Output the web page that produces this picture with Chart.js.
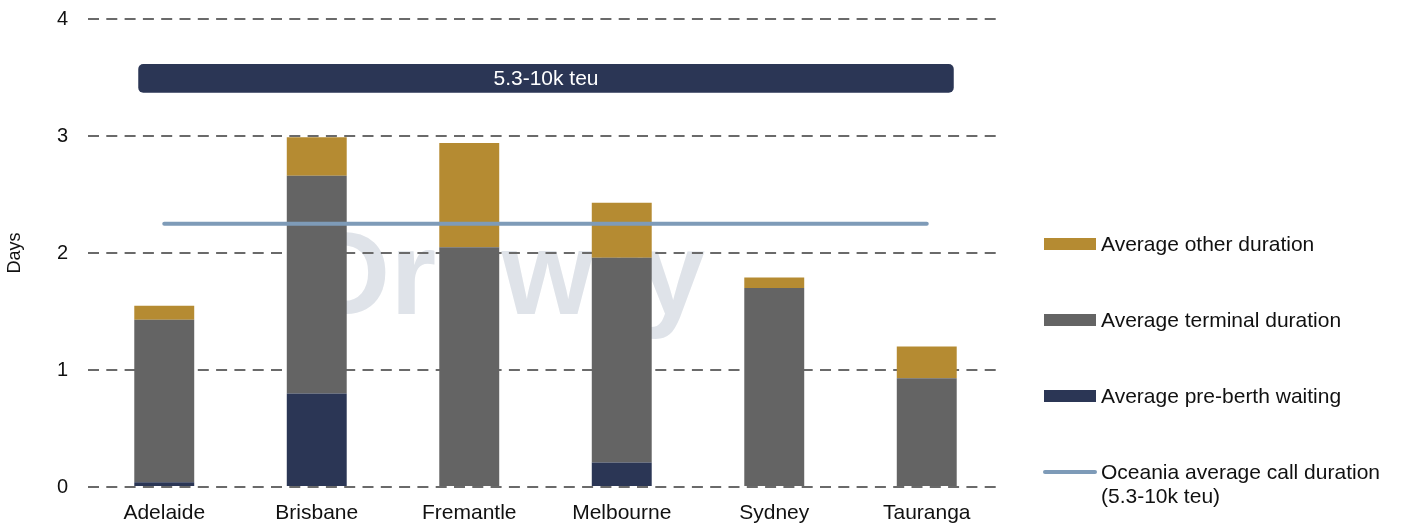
<!DOCTYPE html>
<html>
<head>
<meta charset="utf-8">
<script src="https://cdn.jsdelivr.net/npm/chart.js@4.4.1/dist/chart.umd.min.js"></script>
<style>
  html, body { margin: 0; padding: 0; background: #fff; }
  #wrap { position: relative; width: 1402px; height: 525px; }
  #legend { position: absolute; left: 1043px; top: 0; font-family: "Liberation Sans", Arial, sans-serif; font-size: 21px; color: #111; }
  .item { position: absolute; left: 0; white-space: nowrap; }
  .box { position: absolute; left: 1px; width: 52px; height: 12px; }
  .txt { position: absolute; left: 58px; line-height: 24px; }
</style>
</head>
<body>
<div id="wrap">
  <canvas id="callChart" width="1402" height="525"></canvas>
  <div id="legend"></div>
</div>
<script>
Chart.defaults.font.family = '"Liberation Sans", Arial, sans-serif';
Chart.defaults.font.size = 21;
Chart.defaults.color = "#111111";

const ports = ["Adelaide", "Brisbane", "Fremantle", "Melbourne", "Sydney", "Tauranga"];
const preBerth = [0.04, 0.80, 0, 0.21, 0, 0];
const terminal = [1.39, 1.86, 2.05, 1.75, 1.70, 0.93];
const other = [0.12, 0.33, 0.89, 0.47, 0.09, 0.27];
const oceaniaAvg = [2.25, 2.25, 2.25, 2.25, 2.25, 2.25];
const yTicks = [0, 1, 2, 3, 4];
const bandLabel = "5.3-10k teu";

const colOther = "#b58b32";
const colTerminal = "#646464";
const colPre = "#2b3655";
const colLine = "#7e9bb8";

/* ------------------------------
   BANNER + WATERMARK
------------------------------- */
const extras = {
    id: "extras",
    beforeDraw(chart) {
        const c = chart.ctx;
        c.save();
        c.fillStyle = "#dfe3e9";
        c.font = 'bold 118px "Liberation Sans", Arial, sans-serif';
        c.textBaseline = "alphabetic";
        c.fillText("Drewry", 305, 314);
        c.restore();
    },
    afterDatasetsDraw(chart) {
        const c = chart.ctx;
        const x = chart.scales.x, y = chart.scales.y;
        const left = x.getPixelForValue(0) - 26;
        const right = x.getPixelForValue(ports.length - 1) + 27;
        const top = y.getPixelForValue(3.615);
        const bottom = y.getPixelForValue(3.37);
        c.save();
        c.fillStyle = colPre;
        c.beginPath();
        c.roundRect(left, top, right - left, bottom - top, 5);
        c.fill();
        c.fillStyle = "#ffffff";
        c.font = '21px "Liberation Sans", Arial, sans-serif';
        c.textAlign = "center";
        c.textBaseline = "middle";
        c.fillText(bandLabel, (left + right) / 2, (top + bottom) / 2 + 1);
        c.restore();
    }
};

/* ------------------------------
   CALL DURATION CHART
------------------------------- */
const chart = new Chart(callChart, {
    type: "bar",
    data: {
        labels: ports,
        datasets: [
            { label: "Oceania average call duration (5.3-10k teu)", type: "line", data: oceaniaAvg,
              borderColor: colLine, borderWidth: 4, pointRadius: 0, borderCapStyle: "round",
              stack: "avg", order: 0 },
            { label: "Average pre-berth waiting", data: preBerth, backgroundColor: colPre, stack: "s", order: 1 },
            { label: "Average terminal duration", data: terminal, backgroundColor: colTerminal, stack: "s", order: 1 },
            { label: "Average other duration", data: other, backgroundColor: colOther, stack: "s", order: 1 }
        ]
    },
    options: {
        responsive: false,
        animation: false,
        datasets: { bar: { categoryPercentage: 1, barPercentage: 0.393, borderWidth: 0 } },
        layout: { autoPadding: false, padding: { left: 0, right: 399, top: 19, bottom: 0 } },
        plugins: { legend: { display: false }, tooltip: { enabled: false } },
        scales: {
            x: {
                stacked: true,
                grid: { display: false },
                border: { display: false },
                ticks: { padding: 6, color: "#111" },
                afterFit(s) { s.height = 38; s.paddingLeft = 0; s.paddingRight = 0; }
            },
            y: {
                stacked: true,
                min: 0,
                max: 4,
                afterBuildTicks(s) { s.ticks = yTicks.map(v => ({ value: v })); },
                grid: { color: "#6a6a6a", lineWidth: 2, drawTicks: false },
                border: { display: false, dash: [11, 7.3] },
                ticks: { padding: 20, color: "#111", font: { size: 20 } },
                title: { display: true, text: "Days", color: "#111", font: { size: 18 }, padding: 4 },
                afterFit(s) { s.width = 88; s.paddingTop = 0; s.paddingBottom = 0; }
            }
        }
    },
    plugins: [extras]
});

/* ------------------------------
   LEGEND
------------------------------- */
const legendItems = [
    { text: "Average other duration", color: colOther, y: 244 },
    { text: "Average terminal duration", color: colTerminal, y: 320 },
    { text: "Average pre-berth waiting", color: colPre, y: 396 },
    { text: "Oceania average call duration<br>(5.3-10k teu)", color: colLine, y: 472, line: true }
];
const legend = document.getElementById("legend");
legendItems.forEach(it => {
    const d = document.createElement("div");
    d.className = "item";
    d.style.top = it.y + "px";
    const boxStyle = it.line
        ? `top:-2px;height:4px;border-radius:2px;width:54px;left:0;background:${it.color}`
        : `top:-6px;background:${it.color}`;
    d.innerHTML = `<div class="box" style="${boxStyle}"></div><div class="txt" style="top:-12px">${it.text}</div>`;
    legend.appendChild(d);
});
</script>
</body>
</html>
